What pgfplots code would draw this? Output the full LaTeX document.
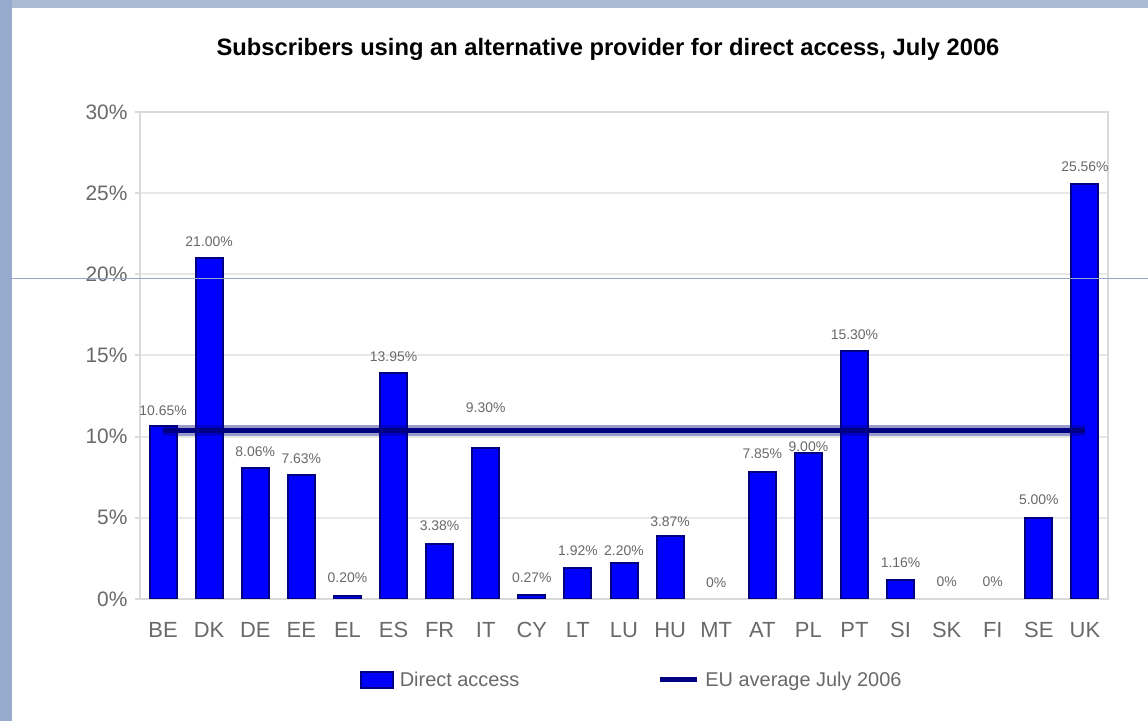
\documentclass[border=0pt]{standalone}
\usepackage{pgfplots}
\pgfplotsset{compat=1.18}
\usepackage{pgfplotstable}
\usepackage{fontspec}
\setmainfont{Liberation Sans}
\definecolor{barblue}{RGB}{0,0,255}
\definecolor{navy}{RGB}{0,0,128}
\definecolor{gridc}{RGB}{232,232,232}
\definecolor{axc}{RGB}{218,218,218}
\definecolor{labc}{RGB}{105,105,105}
\definecolor{stripe}{RGB}{150,170,205}
\definecolor{topstripe}{RGB}{172,187,212}
\definecolor{slideline}{RGB}{150,168,198}

\pgfplotsset{
  barlegend/.style={legend image code/.code={\draw[##1] (0bp,-8bp) rectangle (32bp,8bp);}},
  linelegend/.style={legend image code/.code={\draw[##1] (0bp,0bp) -- (37bp,0bp);}},
}

\pgfplotstableread{
x y off
0 10.65 15
1 21.00 16
2 8.06 16
3 7.63 16
4 0.20 18
5 13.95 16
6 3.38 18
7 9.30 40
8 0.27 17
9 1.92 17
10 2.20 13
11 3.87 14
12 0 16
13 7.85 18
14 9.00 6
15 15.30 16
16 1.16 17
17 0 17
18 0 17
19 5.00 18
20 25.56 17
}\bars

\pgfplotstableread{
x y
0 10.36
20 10.36
}\avg

\begin{document}
\begin{tikzpicture}
\useasboundingbox (0,0) rectangle (1148bp,721bp);
\fill[white] (0,0) rectangle (1148bp,721bp);
\fill[stripe] (0,0) rectangle (12bp,721bp);
\fill[topstripe] (12bp,713bp) rectangle (1148bp,721bp);
\begin{axis}[
  at={(140bp,122bp)}, anchor=south west,
  scale only axis, width=968bp, height=487bp,
  xmin=-0.5, xmax=20.5, ymin=0, ymax=30,
  xtick={0,...,20},
  xticklabels={BE,DK,DE,EE,EL,ES,FR,IT,CY,LT,LU,HU,MT,AT,PL,PT,SI,SK,FI,SE,UK},
  ytick={0,5,...,30},
  yticklabel={\pgfmathprintnumber{\tick}\%},
  ymajorgrids, grid style={gridc, line width=2bp},
  axis line style={axc, line width=2bp},
  x tick style={draw=none}, y tick style={axc, line width=2bp},
  ytick pos=left,
  tick align=outside, major tick length=5bp,
  ticklabel style={font=\fontsize{21}{24}\selectfont, text=labc},
  xticklabel style={font=\fontsize{22}{24}\selectfont, text height=16bp, text depth=0bp, anchor=center, yshift=-25bp},
  yticklabel style={xshift=-4bp},
  /pgf/number format/assume math mode=true,
  title={\textbf{Subscribers using an alternative provider for direct access, July 2006}},
  title style={font=\fontsize{23.8}{26}\selectfont, at={(0.4835,1.117)}, anchor=center},
  legend style={draw=none, fill=none, at={(0.51,-0.166)}, anchor=center,
    legend columns=2, font=\fontsize{20}{24}\selectfont, text=labc,
    nodes={inner xsep=6bp},
    /tikz/every even column/.append style={column sep=132bp}},
]
\addplot[ybar, bar width=27bp, fill=barblue, draw=navy, line width=2bp,
  restrict y to domain=0.01:100, barlegend]
  table[x=x,y=y]{\bars};
\addplot[only marks, mark=none, draw=none, forget plot,
  visualization depends on={\thisrow{off}\as\off},
  nodes near coords={\ifdim\pgfplotspointmetatransformed pt<1pt 0\%\else\pgfmathprintnumber[fixed,fixed zerofill,precision=2]{\pgfplotspointmeta}\%\fi},
  every node near coord/.append style={anchor=center, yshift=\off bp, font=\fontsize{14}{16}\selectfont, text=labc}]
  table[x=x,y=y]{\bars};
\addplot[navy, opacity=0.4, line width=11bp, forget plot] table[x=x,y=y]{\avg};
\addplot[navy, line width=5bp, linelegend] table[x=x,y=y]{\avg};
\legend{Direct access, EU average July 2006}
\end{axis}
\draw[slideline, line width=1bp] (12bp,442bp) -- (1148bp,442bp);
\end{tikzpicture}
\end{document}
